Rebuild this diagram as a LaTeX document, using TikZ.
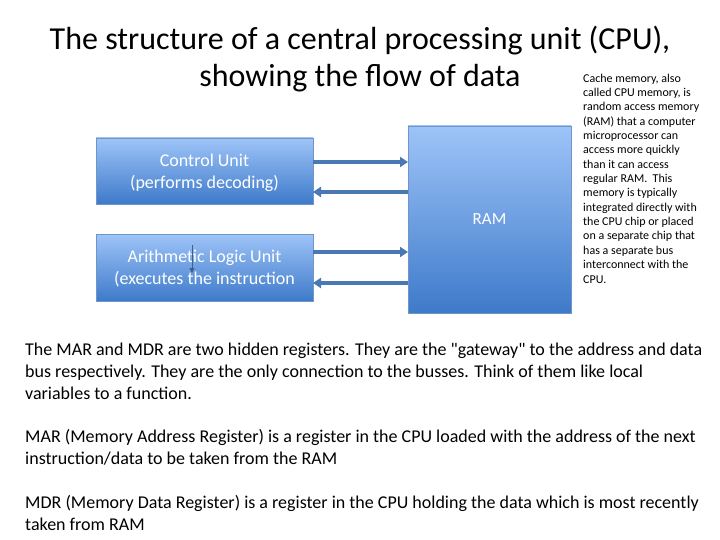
\documentclass[tikz,border=0pt]{standalone}
\usepackage{fontspec}
\setmainfont{Carlito}[Ligatures=TeXOff]
\usetikzlibrary{arrows.meta}
\definecolor{boxtop}{RGB}{158,196,248}
\definecolor{boxbot}{RGB}{62,122,202}
\definecolor{boxline}{RGB}{110,150,200}
\definecolor{arr}{RGB}{74,120,178}
\tikzset{
  unitbox/.style={draw=boxline, line width=0.6pt, top color=boxtop, bottom color=boxbot, inner sep=0pt},
  boxtext/.style={text=white, font=\fontsize{18}{22}\selectfont, align=center},
  bus/.style={draw=arr, line width=3.2pt, -{Triangle[length=8pt,width=10pt]}},
  bodytext/.style={anchor=north west, align=left, font=\fontsize{18}{22}\selectfont, inner sep=0pt},
}
\begin{document}
\begin{tikzpicture}[x=1pt,y=-1pt]
\useasboundingbox (0,0) rectangle (720,540);
% title
\node (title) at (360,59) [align=center, font=\fontsize{32}{37}\selectfont] {The structure of a central processing unit (CPU),\\showing the flow of data};
% boxes
\path[unitbox] (96,138) rectangle (313,204);
\node (cu) [boxtext] at (204.5,172.5) {Control Unit\\(performs decoding)};
\path[unitbox] (96,234) rectangle (313,301);
\node (alu) [boxtext] at (204.5,268) {Arithmetic Logic Unit\\(executes the instruction};
\path[unitbox] (408,126) rectangle (571,313);
\node (ram) [text=white, font=\fontsize{17}{20}\selectfont] at (489.5,219.5) {RAM};
% buses
\coordinate (a1) at (313,162); \coordinate (b1) at (408,162);
\coordinate (a2) at (408,192); \coordinate (b2) at (313,192);
\coordinate (a3) at (313,252); \coordinate (b3) at (408,252);
\coordinate (a4) at (408,283); \coordinate (b4) at (313,283);
\draw[bus] (a1) -- (b1);
\draw[bus] (a2) -- (b2);
\draw[bus] (a3) -- (b3);
\draw[bus] (a4) -- (b4);
% small arrow inside ALU
\coordinate (d1) at (192,245); \coordinate (d2) at (192,273);
\draw[draw=arr!80!black, line width=0.9pt, -{Triangle[length=5pt,width=5pt]}] (d1) -- (d2);
% cache text
\node (cache) [anchor=north west, align=left, inner sep=0pt, font=\fontsize{12}{14.36}\selectfont] at (583,73.5) {Cache memory, also\\called CPU memory, is\\random access memory\\(RAM) that a computer\\microprocessor can\\access more quickly\\than it can access\\regular RAM.~~This\\memory is typically\\integrated directly with\\the CPU chip or placed\\on a separate chip that\\has a separate bus\\interconnect with the\\CPU.};
% body text
\node (p1) [bodytext] at (25,343) {The MAR and MDR are two hidden registers. They are the "gateway" to the address and data\\bus respectively. They are the only connection to the busses. Think of them like local\\variables to a function.};
\node (p2) [bodytext] at (25,429) {MAR (Memory Address Register) is a register in the CPU loaded with the address of the next\\instruction/data to be taken from the RAM};
\node (p3) [bodytext] at (25,495) {MDR (Memory Data Register) is a register in the CPU holding the data which is most recently\\taken from RAM};
\end{tikzpicture}
\end{document}
